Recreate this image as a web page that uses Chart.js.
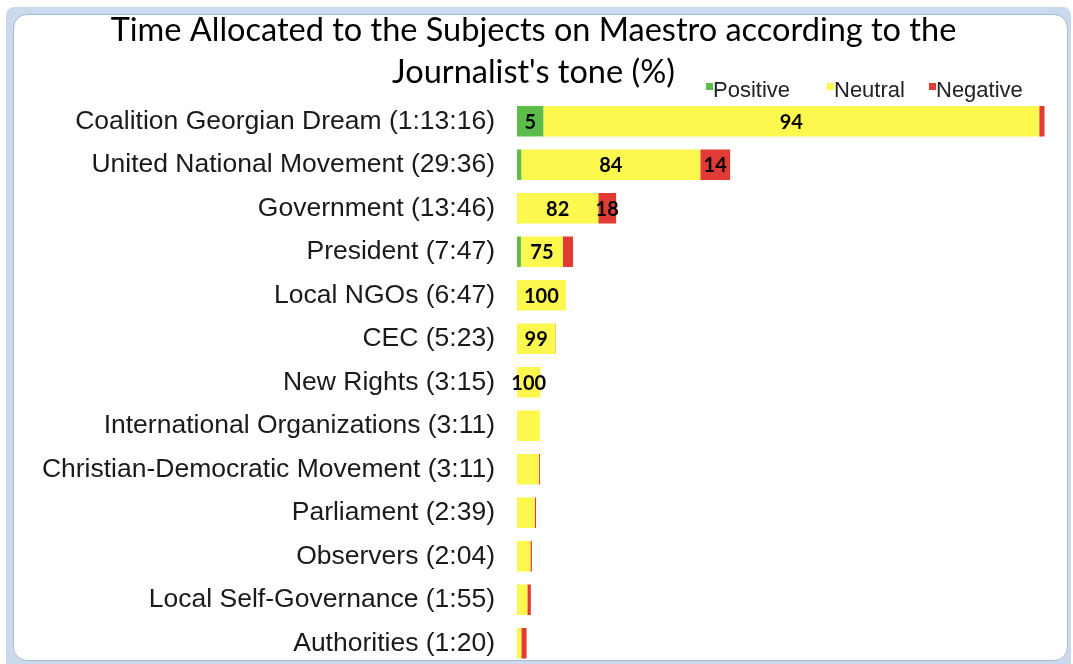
<!DOCTYPE html>
<html>
<head>
<meta charset="utf-8">
<script src="https://cdn.jsdelivr.net/npm/chart.js@4.4.1/dist/chart.umd.min.js"></script>
<style>
  html, body { margin: 0; padding: 0; background: #fff; }
  #wrap { position: relative; width: 1073px; height: 664px; overflow: hidden; }
  .frame { position: absolute; left: 6px; top: 7px; width: 1065px; height: 670px; background: #cbd9ec; border-radius: 8px; }
  .panel { position: absolute; left: 13px; top: 14px; width: 1053px; height: 645px; background: #fff; border: 1px solid #a9bbd3; border-radius: 14px; }
  canvas { position: absolute; left: 0; top: 0; }
</style>
</head>
<body>
<div id="wrap">
  <div class="frame"></div>
  <div class="panel"></div>
  <!-- canvas runs past the bottom edge so the last bar sits at the frame like in the original -->
  <canvas id="toneChart" width="1073" height="695"></canvas>
</div>
<script>
// Subjects and their total airtime (h:mm:ss / m:ss)
const subjects = ['Coalition Georgian Dream', 'United National Movement', 'Government', 'President',
  'Local NGOs', 'CEC', 'New Rights', 'International Organizations', 'Christian-Democratic Movement',
  'Parliament', 'Observers', 'Local Self-Governance', 'Authorities'];
const durations = ['1:13:16', '29:36', '13:46', '7:47', '6:47', '5:23', '3:15', '3:11', '3:11',
  '2:39', '2:04', '1:55', '1:20'];

// Journalist's tone, % of each subject's time
const positive = [5, 2, 0, 7, 0, 0, 0, 0, 0, 0, 0, 0, 0];
const neutral  = [94, 84, 82, 75, 100, 99, 100, 100, 95, 93, 90, 75, 45];
const negative = [1, 14, 18, 18, 0, 1, 0, 0, 5, 7, 10, 25, 55];

const LABELED_ROWS = 7;

function toSeconds(str) {
    return str.split(':').reduce((acc, part) => acc * 60 + parseInt(part, 10), 0);
}

const totals = durations.map(toSeconds);
const labels = subjects.map((s, i) => `${s} (${durations[i]})`);
const share = pct => pct.map((p, i) => totals[i] * p / 100);

// Percent labels in the middle of each segment
const segmentLabels = {
    id: 'segmentLabels',
    afterDatasetsDraw(chart) {
        const ctx = chart.ctx;
        ctx.save();
        ctx.font = 'bold 20px Lato';
        ctx.fillStyle = '#000';
        ctx.textAlign = 'center';
        ctx.textBaseline = 'middle';
        chart.data.datasets.forEach((ds, d) => {
            chart.getDatasetMeta(d).data.forEach((bar, i) => {
                const w = Math.abs(bar.x - bar.base);
                if (i < LABELED_ROWS && w >= 14) {
                    ctx.fillText(ds.pct[i], (bar.x + bar.base) / 2, bar.y + 1);
                }
            });
        });
        ctx.restore();
    }
};

// Small-square legend in the top right corner
const cornerLegend = {
    id: 'cornerLegend',
    afterDraw(chart) {
        const ctx = chart.ctx;
        const items = [[706, 713], [827, 834], [929, 936]];
        ctx.save();
        ctx.font = '22px "Liberation Sans", Arial, sans-serif';
        ctx.textBaseline = 'middle';
        chart.data.datasets.forEach((ds, d) => {
            const [sx, tx] = items[d];
            ctx.fillStyle = ds.backgroundColor;
            ctx.fillRect(sx, 83, 7, 7);
            ctx.fillStyle = '#222';
            ctx.fillText(ds.label, tx, 91);
        });
        ctx.restore();
    }
};

const ctx = document.getElementById('toneChart').getContext('2d');
new Chart(ctx, {
    type: 'bar',
    data: {
        labels: labels,
        datasets: [
            { label: 'Positive', data: share(positive), pct: positive, backgroundColor: '#5cbd4a' },
            { label: 'Neutral', data: share(neutral), pct: neutral, backgroundColor: '#fcf84d' },
            { label: 'Negative', data: share(negative), pct: negative, backgroundColor: '#e23b36' }
        ]
    },
    options: {
        indexAxis: 'y',
        responsive: false,
        animation: false,
        categoryPercentage: 1,
        barPercentage: 0.7,
        layout: { padding: { left: 10, right: 16 } },
        scales: {
            x: {
                stacked: true,
                min: 0,
                max: 4500,
                display: false
            },
            y: {
                stacked: true,
                grid: { display: false },
                border: { display: false },
                ticks: {
                    padding: 14,
                    color: '#1a1a1a',
                    font: { family: '"Liberation Sans", Arial, sans-serif', size: 26.5 }
                },
                afterFit(scale) { scale.width = 507; }
            }
        },
        plugins: {
            legend: { display: false },
            tooltip: { enabled: false },
            title: {
                display: true,
                text: ['Time Allocated to the Subjects on Maestro according to the', "Journalist's tone (%)"],
                color: '#000',
                font: { family: 'Lato', size: 32.5, weight: 'normal', lineHeight: 1.3 },
                padding: { top: 9, bottom: 6 }
            }
        }
    },
    plugins: [segmentLabels, cornerLegend]
});
</script>
</body>
</html>
